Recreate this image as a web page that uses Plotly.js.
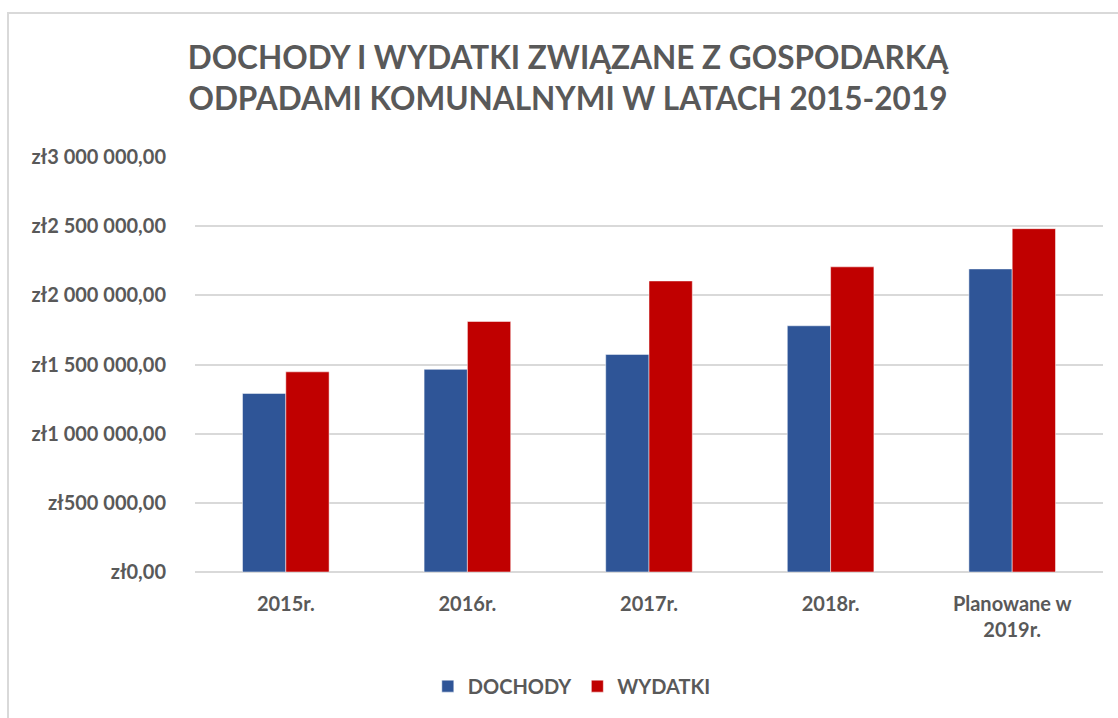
<!DOCTYPE html>
<html>
<head>
<meta charset="utf-8">
<script src="https://cdn.plot.ly/plotly-3.0.1.min.js"></script>
<style>
  html, body { margin: 0; padding: 0; background: #fff; }
  #wrap { position: relative; width: 1118px; height: 718px; overflow: hidden; }
  #chart { width: 1118px; height: 718px; }
  #frame { position: absolute; left: 7px; top: 12px; width: 1200px; height: 800px;
           border-left: 2px solid #d9d9d9; border-top: 2px solid #d9d9d9; pointer-events: none; }
</style>
</head>
<body>
<div id="wrap">
  <div id="chart"></div>
  <div id="frame"></div>
</div>
<script>
const categories = ["2015r.", "2016r.", "2017r.", "2018r.", "Planowane w<br>2019r."];
const dochody = [1291000, 1465000, 1573000, 1780000, 2191000];
const wydatki = [1447000, 1811000, 2104000, 2206000, 2482000];
const tickVals = [0, 500000, 1000000, 1500000, 2000000, 2500000, 3000000];
const tickLabels = ["zł0,00", "zł500 000,00", "zł1 000 000,00", "zł1 500 000,00", "zł2 000 000,00", "zł2 500 000,00", "zł3 000 000,00"];

const FONT = "Lato, 'Open Sans', sans-serif";
const GREY = "#595959";

const traces = [
  { type: "bar", name: "DOCHODY", x: categories, y: dochody,
    marker: { color: "#2F5597", line: { color: "#ffffff", width: 0.5 } } },
  { type: "bar", name: "WYDATKI", x: categories, y: wydatki,
    marker: { color: "#C00000", line: { color: "#ffffff", width: 0.5 } } }
];

const layout = {
  width: 1118, height: 718,
  paper_bgcolor: "#fff", plot_bgcolor: "#fff",
  margin: { l: 195, r: 15, t: 157, b: 146 },
  barmode: "group", bargap: 0.523, bargroupgap: 0,
  title: {
    text: "<b>DOCHODY I WYDATKI ZWIĄZANE Z GOSPODARKĄ<br>ODPADAMI KOMUNALNYMI W LATACH 2015-2019</b>",
    font: { family: FONT, size: 31.5, color: GREY },
    x: 0.508, xanchor: "center", y: 0.904, yanchor: "middle"
  },
  xaxis: {
    type: "category", showgrid: false, zeroline: false, showline: false,
    ticks: "", tickfont: { family: FONT, size: 20, color: GREY, weight: "bold" },
    ticklabelstandoff: 18
  },
  yaxis: {
    range: [0, 3000000], tickmode: "array", tickvals: tickVals, ticktext: tickLabels,
    showgrid: true, gridcolor: "#d9d9d9", gridwidth: 2, zeroline: true, zerolinecolor: "#d9d9d9", zerolinewidth: 2,
    showline: false, ticks: "", tickfont: { family: FONT, size: 20, color: GREY, weight: "bold" },
    ticklabelstandoff: 28
  },
  legend: {
    orientation: "h", x: 0.415, xanchor: "center", y: -0.275, yanchor: "middle",
    font: { family: FONT, size: 20, color: GREY, weight: "bold" },
    itemwidth: 30, traceorder: "normal"
  },
  showlegend: true
};

Plotly.newPlot("chart", traces, layout, { displayModeBar: false, staticPlot: true });
</script>
</body>
</html>
